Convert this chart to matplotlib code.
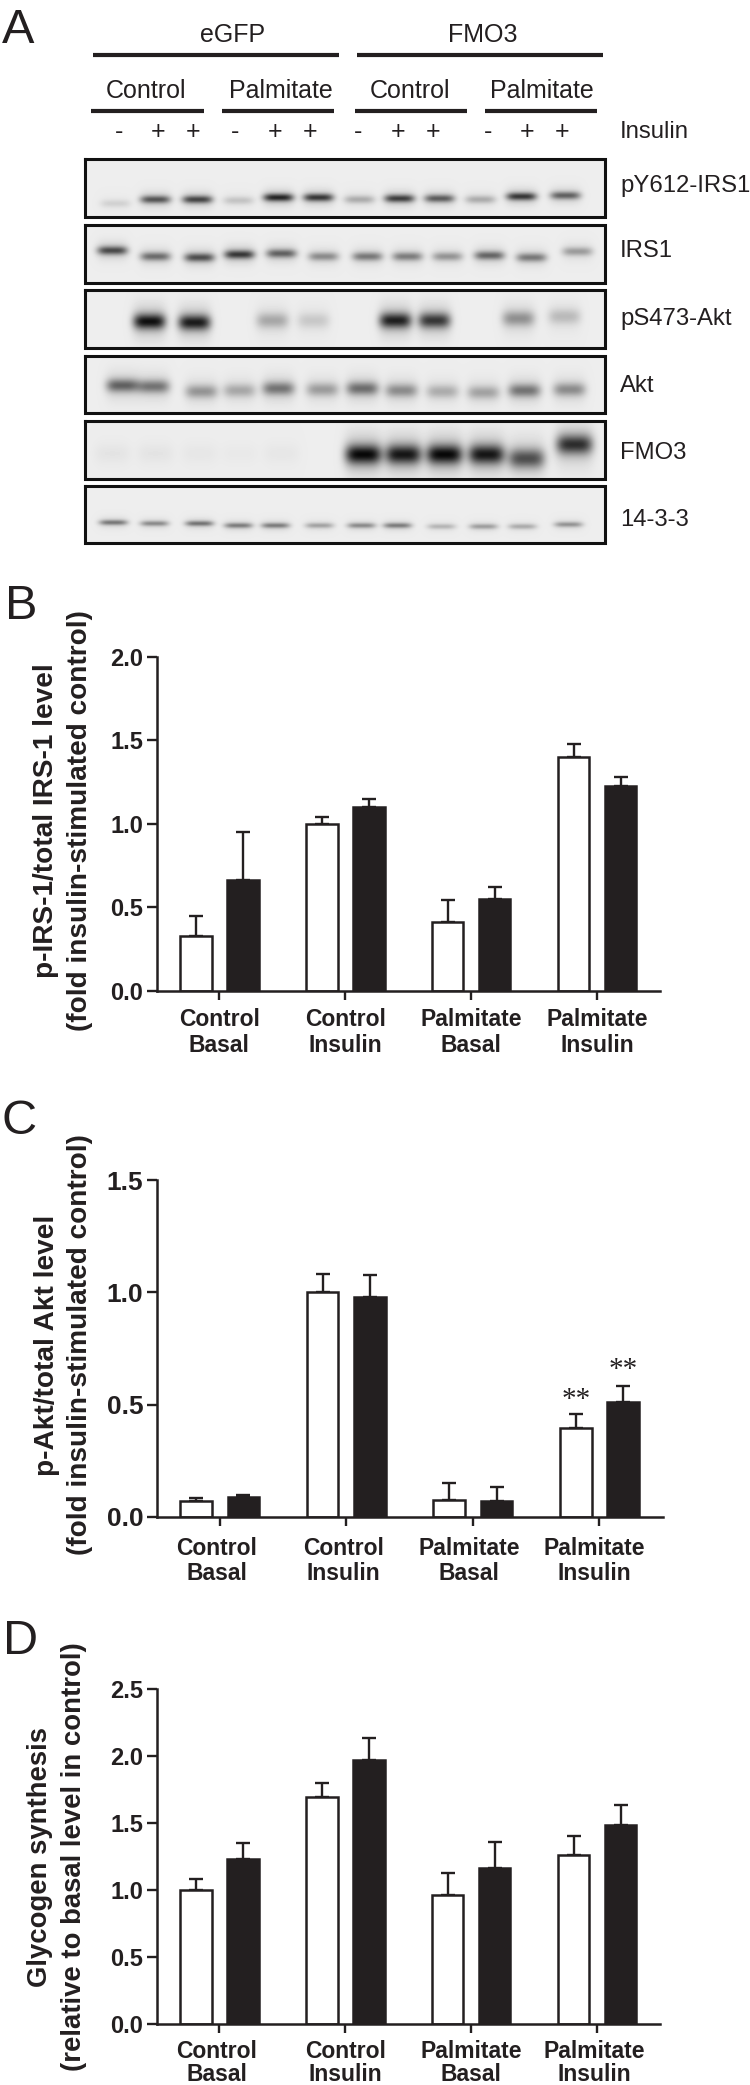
import numpy as np
import matplotlib
matplotlib.use("Agg")
import matplotlib.pyplot as plt
from matplotlib.transforms import ScaledTranslation

plt.rcParams["font.family"] = ["Liberation Sans", "DejaVu Sans"]

W, H = 750, 2085
INK = "#231f20"

categories = ["Control\nBasal", "Control\nInsulin", "Palmitate\nBasal", "Palmitate\nInsulin"]

b_white = [0.33, 1.00, 0.41, 1.40]
b_white_err = [0.12, 0.04, 0.135, 0.075]
b_black = [0.665, 1.10, 0.55, 1.225]
b_black_err = [0.285, 0.05, 0.07, 0.055]

c_white = [0.073, 1.00, 0.075, 0.395]
c_white_err = [0.010, 0.08, 0.075, 0.065]
c_black = [0.090, 0.98, 0.073, 0.510]
c_black_err = [0.010, 0.097, 0.061, 0.073]

d_white = [1.00, 1.70, 0.965, 1.26]
d_white_err = [0.085, 0.10, 0.162, 0.145]
d_black = [1.23, 1.975, 1.167, 1.49]
d_black_err = [0.125, 0.165, 0.193, 0.145]

# blot rows: label, box top/bottom, lane centres, band height, darkness
row_labels = ["pY612-IRS1", "IRS1", "pS473-Akt", "Akt", "FMO3", "14-3-3"]
row_label_y = [186, 251, 319, 386, 453, 520]
row_boxes = [(159, 217), (225, 283), (290, 348), (356, 413), (421, 479), (486, 543)]
row_lanes = [
    [115, 155, 197, 238, 278, 318, 359, 399, 439, 480, 521, 565],
    [112, 155, 199, 239, 281, 323, 367, 407, 447, 489, 531, 577],
    [110, 149, 194, 238, 272, 313, 355, 395, 434, 477, 518, 564],
    [122, 153, 201, 239, 278, 322, 362, 401, 442, 483, 524, 569],
    [112, 155, 199, 239, 281, 323, 363, 403, 444, 486, 526, 574],
    [113, 154, 199, 238, 275, 319, 361, 397, 441, 483, 522, 568],
]
row_band_y = [
    [44, 40, 40, 41, 38, 38, 40, 39, 39, 40, 37, 36],
    [25, 31, 32, 29, 28, 31, 31, 31, 31, 30, 32, 26],
    [0, 31, 32, 0, 30, 30, 0, 30, 30, 0, 28, 26],
    [29, 30, 35, 34, 32, 33, 32, 34, 35, 36, 34, 33],
    [32, 32, 32, 32, 32, 32, 33, 33, 33, 33, 37, 23],
    [36, 37, 37, 39, 39, 39, 39, 39, 40, 40, 40, 38],
]
row_band_h = [3.8, 4.2, 7.5, 6.5, 9.5, 2.6]
row_band_w = [15, 15, 16, 16, 18, 14]
row_dark = [
    [0.12, 0.65, 0.72, 0.18, 0.85, 0.78, 0.28, 0.75, 0.62, 0.28, 0.78, 0.60],
    [0.70, 0.55, 0.68, 0.78, 0.60, 0.42, 0.50, 0.48, 0.38, 0.58, 0.50, 0.35],
    [0.00, 0.95, 0.90, 0.00, 0.30, 0.16, 0.00, 0.88, 0.78, 0.00, 0.40, 0.22],
    [0.60, 0.52, 0.38, 0.30, 0.52, 0.35, 0.55, 0.42, 0.28, 0.32, 0.52, 0.42],
    [0.04, 0.04, 0.03, 0.02, 0.03, 0.00, 0.98, 0.92, 0.98, 0.92, 0.68, 0.82],
    [0.50, 0.42, 0.52, 0.48, 0.48, 0.32, 0.42, 0.48, 0.24, 0.34, 0.28, 0.38],
]

group_lines = [(93, 339), (357, 603)]
group_names = ["eGFP", "FMO3"]
group_x = [233, 483]
sub_lines = [(91, 204), (222, 334), (355, 467), (485, 597)]
sub_names = ["Control", "Palmitate", "Control", "Palmitate"]
sub_x = [146, 281, 410, 542]
insulin_x = [119, 158, 193, 235, 275, 310, 358, 398, 433, 488, 527, 562]
insulin_signs = ["-", "+", "+", "-", "+", "+", "-", "+", "+", "-", "+", "+"]

fig = plt.figure(figsize=(W / 100, H / 100), dpi=100)
page = fig.add_axes([0, 0, 1, 1])
page.set_xlim(0, W)
page.set_ylim(H, 0)
page.axis("off")


def blot_image(box, lanes, band_y, band_h, band_w, dark):
    top, bottom = box
    xx, yy = np.meshgrid(np.arange(85, 605), np.arange(top, bottom))
    img = np.full(xx.shape, 0.93)
    for x0, y0, d in zip(lanes, band_y, dark):
        core = np.exp(-((xx - x0) / band_w) ** 4 - ((yy - top - y0) / band_h) ** 2)
        halo = np.exp(-((xx - x0) / (band_w * 1.05)) ** 4 - ((yy - top - y0) / (band_h * 2.2)) ** 2)
        img = img - d * (0.72 * core + 0.2 * halo)
    return np.clip(img, 0, 1)


for i, box in enumerate(row_boxes):
    img = blot_image(box, row_lanes[i], row_band_y[i], row_band_h[i], row_band_w[i], row_dark[i])
    page.imshow(img, cmap="gray", vmin=0, vmax=1, extent=(85, 605, box[1], box[0]),
                aspect="auto", interpolation="bilinear")
    page.plot([85, 605, 605, 85, 85], [box[0], box[0], box[1], box[1], box[0]],
              color="#111111", lw=2.2, solid_joinstyle="miter")
    page.text(620, row_label_y[i], row_labels[i], fontsize=17.2, va="center", color=INK)
page.set_xlim(0, W)
page.set_ylim(H, 0)

for (x0, x1), name, tx in zip(group_lines, group_names, group_x):
    page.plot([x0, x1], [55, 55], color=INK, lw=3, solid_capstyle="butt")
    page.text(tx, 35, name, fontsize=18, ha="center", va="center", color=INK)
for (x0, x1), name, tx in zip(sub_lines, sub_names, sub_x):
    page.plot([x0, x1], [111, 111], color=INK, lw=3, solid_capstyle="butt")
    page.text(tx, 91, name, fontsize=18, ha="center", va="center", color=INK)
for tx, sign in zip(insulin_x, insulin_signs):
    page.text(tx, 132, sign, fontsize=18, ha="center", va="center", color=INK)
page.text(620, 132, "Insulin", fontsize=17.2, va="center", color=INK)

for letter, lx, ly in [("A", 2, 43), ("B", 5, 619), ("C", 1, 1134), ("D", 3, 1654)]:
    page.text(lx, ly, letter, fontsize=35, ha="left", va="baseline", color=INK)


def bar_panel(box, ymax, yticks, white, white_err, black, black_err, tick_size, label_shift, xpad, spacing):
    left, right, top, bottom = box
    ax = fig.add_axes([left / W, 1 - bottom / H, (right - left) / W, (bottom - top) / H])
    ax.patch.set_alpha(0)
    x = np.arange(len(categories))
    offset, width = 0.187, 0.25
    ax.errorbar(x - offset, white, yerr=[np.zeros(4), white_err], fmt="none",
                ecolor=INK, elinewidth=1.7, capsize=5.2, capthick=1.7, zorder=1)
    ax.errorbar(x + offset, black, yerr=[np.zeros(4), black_err], fmt="none",
                ecolor=INK, elinewidth=1.7, capsize=5.2, capthick=1.7, zorder=1)
    ax.bar(x - offset, white, width, color="white", edgecolor=INK, linewidth=1.8, zorder=2)
    ax.bar(x + offset, black, width, color=INK, edgecolor=INK, linewidth=1.8, zorder=2)
    ax.set_xlim(-0.5, 3.5)
    ax.set_ylim(0, ymax)
    ax.set_yticks(yticks)
    ax.set_yticklabels([f"{t:.1f}" for t in yticks], fontsize=tick_size, fontweight="bold", color=INK)
    ax.set_xticks(x)
    ax.set_xticklabels(categories, fontsize=16.5, fontweight="bold", color=INK, linespacing=spacing)
    ax.tick_params(axis="y", length=7.5, width=1.7, pad=2, color=INK)
    ax.tick_params(axis="x", length=6.5, width=1.7, pad=xpad, color=INK)
    for lab, dx in zip(ax.get_xticklabels(), label_shift):
        lab.set_transform(lab.get_transform() + ScaledTranslation(dx / 100, 0, fig.dpi_scale_trans))
    for side in ["top", "right"]:
        ax.spines[side].set_visible(False)
    for side in ["left", "bottom"]:
        ax.spines[side].set_linewidth(1.8)
        ax.spines[side].set_color(INK)
    return ax


ax_b = bar_panel((156.5, 660, 656.7, 991), 2.0, [0.0, 0.5, 1.0, 1.5, 2.0],
                 b_white, b_white_err, b_black, b_black_err, 17, [0, 0, 0, 0], 6, 1.12)
ax_c = bar_panel((156.5, 662.7, 1180, 1517), 1.5, [0.0, 0.5, 1.0, 1.5],
                 c_white, c_white_err, c_black, c_black_err, 19, [-3, -3, -4, -5], 8, 1.12)
ax_d = bar_panel((156.5, 660, 1689.3, 2024.3), 2.5, [0.0, 0.5, 1.0, 1.5, 2.0, 2.5],
                 d_white, d_white_err, d_black, d_black_err, 17, [-3, 0, 0, -3], 5, 0.98)

for xpos, top, side, dy in [(3, c_white[3] + c_white_err[3], -0.187, 14), (3, c_black[3] + c_black_err[3], 0.187, 16)]:
    ax_c.annotate("**", (xpos + side, top), xytext=(0, dy * 0.72), textcoords="offset points",
                  ha="center", va="center", fontsize=21, family="Liberation Serif", color=INK)

ylabel_lines = [
    (46, 821, "p-IRS-1/total IRS-1 level", 20.2),
    (80, 821, "(fold insulin-stimulated control)", 20.2),
    (47, 1345, "p-Akt/total Akt level", 20.2),
    (80, 1345, "(fold insulin-stimulated control)", 20.2),
    (40, 1857, "Glycogen synthesis", 19.8),
    (74, 1857, "(relative to basal level in control)", 19.8),
]
for lx, ly, label, size in ylabel_lines:
    page.text(lx, ly, label, rotation=90, fontsize=size, fontweight="bold",
              ha="center", va="center", color=INK)

fig.savefig("out.png", dpi=100)
